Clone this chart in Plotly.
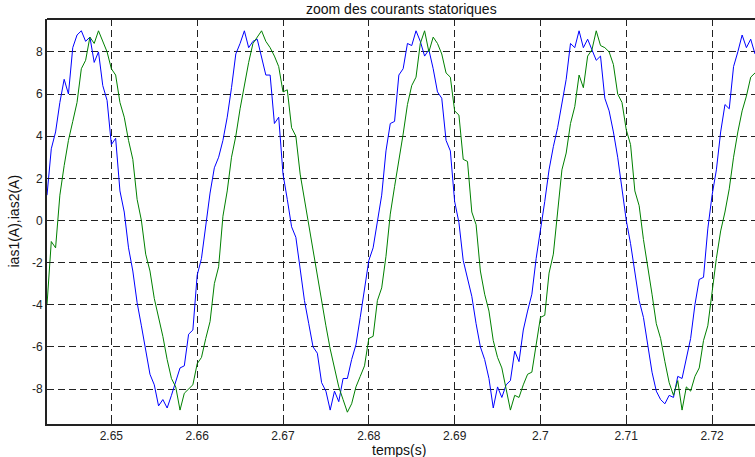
import numpy as np
import plotly.graph_objects as go

# sampling of the zoomed window
t_start = 2.6425
dt = 0.0005

ias1 = [1.2, 3.4, 4.2, 5.6, 6.7, 6.0, 8.2, 8.8, 9.0, 8.5, 8.7, 7.5, 8.0, 6.4, 5.7, 3.6, 3.9, 1.4, 0.4, -1.3,
        -2.4, -3.9, -5.0, -6.1, -7.3, -7.8, -8.8, -8.5, -8.9, -8.3, -7.7, -7.0, -6.9, -5.4, -5.2, -2.6, -1.8, -0.3, 1.3, 2.5,
        3.0, 3.8, 4.9, 6.3, 7.9, 8.4, 9.0, 8.2, 8.5, 8.6, 7.8, 6.9, 6.9, 4.6, 4.9, 2.2, 1.0, -0.3, -0.8, -2.2,
        -3.8, -4.9, -6.0, -6.3, -7.7, -8.1, -9.0, -8.1, -8.6, -7.5, -7.5, -6.6, -5.9, -4.6, -3.3, -1.9, -1.3, 0.0, 1.2, 3.3,
        4.6, 4.7, 6.9, 7.2, 8.4, 8.3, 9.0, 8.5, 7.8, 8.1, 7.2, 6.1, 5.8, 3.8, 3.3, 0.9, -0.1, -1.9, -2.8, -3.6,
        -4.9, -6.0, -6.6, -7.5, -8.9, -7.9, -8.4, -7.8, -7.6, -6.2, -6.7, -5.2, -4.3, -3.5, -1.8, -0.5, 0.9, 2.4, 3.5, 4.4,
        5.6, 6.7, 8.4, 8.2, 9.0, 8.2, 8.6, 8.1, 7.6, 7.8, 5.8, 5.2, 4.2, 3.0, 1.6, 0.0, -1.1, -2.5, -3.8, -4.6,
        -6.0, -7.2, -8.1, -8.5, -8.7, -8.3, -8.4, -7.4, -7.5, -6.5, -5.6, -4.0, -2.8, -2.7, -0.4, 1.2, 2.4, 4.2, 5.5, 5.3,
        7.3, 8.0, 8.8, 8.2, 8.6, 7.9]

ias2 = [-4.0, -1.0, -1.3, 1.2, 2.6, 3.8, 4.7, 5.6, 7.2, 7.6, 8.7, 8.4, 9.0, 8.5, 8.0, 7.2, 6.9, 5.6, 4.9, 3.8,
        2.9, 1.0, 0.0, -1.6, -2.4, -3.7, -4.6, -5.5, -6.6, -7.5, -7.9, -9.0, -8.2, -8.0, -7.8, -6.8, -6.5, -5.6, -4.8, -3.0,
        -2.2, 0.2, 1.4, 3.0, 4.0, 5.3, 6.4, 7.5, 8.4, 8.7, 9.0, 8.5, 8.2, 7.8, 7.3, 6.1, 6.2, 4.4, 4.0, 2.2,
        1.0, -0.2, -1.6, -2.8, -4.0, -5.0, -6.1, -7.0, -7.9, -8.5, -9.1, -8.7, -7.9, -7.4, -6.9, -5.6, -5.5, -3.8, -3.2, -1.7,
        0.3, 1.6, 2.8, 4.1, 5.5, 6.4, 6.8, 8.4, 9.0, 8.0, 8.7, 8.4, 7.9, 7.0, 6.8, 5.2, 5.0, 2.9, 2.8, 0.4,
        -0.2, -2.4, -3.5, -4.3, -5.7, -6.5, -7.0, -8.0, -9.0, -8.3, -8.4, -7.8, -7.3, -7.2, -6.0, -4.6, -4.5, -2.5, -1.6, 0.4,
        2.4, 3.2, 4.6, 5.4, 6.9, 6.3, 7.8, 8.1, 9.0, 8.3, 8.2, 8.0, 7.4, 6.0, 5.6, 4.3, 3.6, 1.4, 0.7, -0.9,
        -2.1, -3.5, -4.9, -5.6, -6.7, -7.7, -8.3, -7.6, -9.0, -7.9, -8.1, -7.4, -7.0, -5.7, -5.0, -3.4, -1.8, -0.5, 0.4, 1.5,
        3.0, 4.2, 5.2, 5.9, 6.8, 7.0]

x_ticks = [2.65, 2.66, 2.67, 2.68, 2.69, 2.70, 2.71, 2.72]
x_ticklabels = ["2.65", "2.66", "2.67", "2.68", "2.69", "2.7", "2.71", "2.72"]
y_ticks = [-8, -6, -4, -2, 0, 2, 4, 6, 8]
y_ticklabels = ["-8", "-6", "-4", "-2", "0", "2", "4", "6", "8"]

t = t_start + dt * np.arange(len(ias1))

FONT = "Liberation Sans, Arial, sans-serif"

fig = go.Figure()
fig.add_trace(go.Scatter(x=t, y=ias1, mode="lines", line=dict(color="#0000FF", width=1), name="ias1"))
fig.add_trace(go.Scatter(x=t, y=ias2, mode="lines", line=dict(color="#008000", width=1), name="ias2"))

axis_common = dict(showgrid=True, gridcolor="#222222", gridwidth=1, griddash="7px,4px",
                   showline=True, linecolor="#222222", linewidth=2, mirror=False,
                   ticks="inside", ticklen=4, tickcolor="#222222", zeroline=False,
                   tickfont=dict(family=FONT, size=12, color="#222222"))

fig.update_layout(
    width=755, height=457,
    margin=dict(l=47, r=0, t=19, b=33),
    paper_bgcolor="white", plot_bgcolor="white",
    showlegend=False,
    xaxis=dict(range=[2.6425, 2.725], tickvals=x_ticks, ticktext=x_ticklabels, **axis_common),
    yaxis=dict(range=[-9.66, 9.56], tickvals=y_ticks, ticktext=y_ticklabels, **axis_common),
    shapes=[dict(type="line", xref="paper", yref="paper", x0=0, x1=1, y0=1, y1=1,
                 line=dict(color="#222222", width=2))],
    annotations=[
        dict(text="zoom des courants statoriques", xref="paper", yref="paper", x=0.5, y=1,
             yshift=10, showarrow=False, yanchor="middle", xanchor="center",
             font=dict(family=FONT, size=14, color="#111111")),
        dict(text="temps(s)", xref="paper", yref="paper", x=0.497, y=0,
             yshift=-26, showarrow=False, yanchor="middle", xanchor="center",
             font=dict(family=FONT, size=14, color="#111111")),
        dict(text="ias1(A),ias2(A)", xref="paper", yref="paper", x=0, y=0.5,
             xshift=-34, showarrow=False, textangle=-90, yanchor="middle", xanchor="center",
             font=dict(family=FONT, size=14, color="#111111")),
    ],
)

fig.write_html("out.html")
